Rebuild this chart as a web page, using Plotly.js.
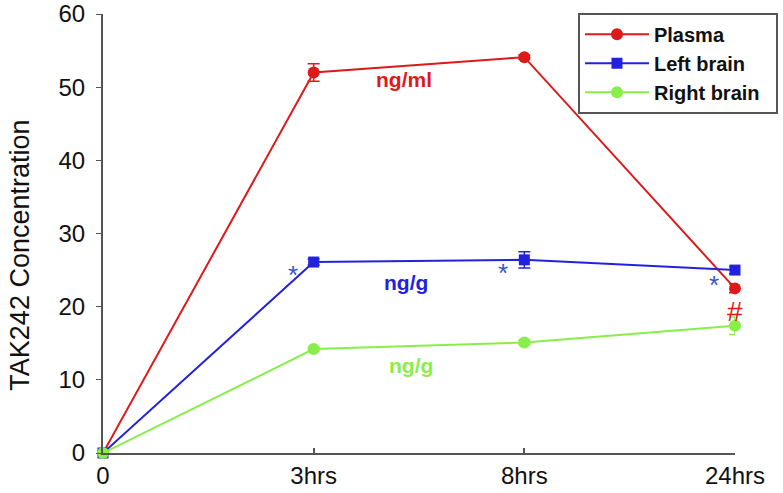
<!DOCTYPE html>
<html><head><meta charset="utf-8">
<script src="https://cdn.plot.ly/plotly-3.0.1.min.js"></script>
<style>body{margin:0;background:#fff}#c{width:783px;height:493px}</style>
</head><body><div id="c"></div>
<script>
const categories = ["0", "3hrs", "8hrs", "24hrs"];
const plasma = [0, 52.0, 54.1, 22.5];
const plasmaErr = [0, 1.2, 0.3, 0.6];
const leftBrain = [0, 26.1, 26.4, 25.0];
const leftErr = [0, 0.4, 1.1, 0.5];
const rightBrain = [0, 14.2, 15.1, 17.4];
const rightErr = [0, 0.3, 0.3, 1.2];
const seriesNames = ["Plasma", "Left brain", "Right brain"];

const xIdx = categories.map((c, i) => i);
const red = "#dd1a1a", blue = "#2222dd", green = "#88ee4a";
const pad = "&nbsp;&nbsp;";

function tr(name, y, err, color, symbol, size) {
  return {
    x: xIdx, y: y, name: name + pad, type: "scatter", mode: "lines+markers",
    line: {color: color, width: 2},
    marker: {color: color, symbol: symbol, size: size},
    error_y: {type: "data", array: err, visible: true, color: color, thickness: 1.5, width: 6},
    cliponaxis: false
  };
}
const data = [
  tr(seriesNames[0], plasma, plasmaErr, red, "circle", 12),
  tr(seriesNames[1], leftBrain, leftErr, blue, "square", 11),
  tr(seriesNames[2], rightBrain, rightErr, green, "circle", 12)
];

const layout = {
  width: 783, height: 493,
  margin: {l: 103, r: 48, t: 14, b: 40, autoexpand: false},
  paper_bgcolor: "#fff", plot_bgcolor: "#fff",
  font: {family: "Arial, Liberation Sans", size: 24, color: "#111"},
  xaxis: {
    range: [0, 3], tickvals: xIdx, ticktext: categories,
    showgrid: false, zeroline: false, showline: true, linecolor: "#555", linewidth: 2,
    ticks: "inside", ticklen: 5, tickcolor: "#555", tickwidth: 2,
    tickfont: {family: "Arial", size: 24, color: "#111"}
  },
  yaxis: {
    range: [0, 60], dtick: 10, showgrid: false, zeroline: false,
    showline: true, linecolor: "#555", linewidth: 2,
    ticks: "outside", ticklen: 5, tickcolor: "#555", tickwidth: 1,
    ticklabelstandoff: 6,
    tickfont: {family: "Arial", size: 24, color: "#111"}
  },
  showlegend: true,
  legend: {
    x: 1.068, y: 1.003, xanchor: "right", yanchor: "top",
    bordercolor: "#555", borderwidth: 2, bgcolor: "#fff",
    font: {family: "Arial", size: 20, color: "#111", weight: "bold"},
    tracegroupgap: 0, itemwidth: 64
  },
  annotations: [
    {xref: "paper", yref: "paper", x: -0.131, y: 0.45, xanchor: "center", yanchor: "middle", text: "TAK242 Concentration", textangle: -90, showarrow: false, font: {family: "Arial", size: 27, color: "#111"}},
    {xref: "x", yref: "y", x: 1.43, y: 51.0, text: "<b>ng/ml</b>", showarrow: false, font: {family: "Arial", size: 21, color: red}},
    {xref: "x", yref: "y", x: 1.44, y: 23.3, text: "<b>ng/g</b>", showarrow: false, font: {family: "Arial", size: 21, color: blue}},
    {xref: "x", yref: "y", x: 1.46, y: 12.0, text: "<b>ng/g</b>", showarrow: false, font: {family: "Arial", size: 21, color: green}},
    {xref: "x", yref: "y", x: 0.90, y: 24.3, text: "*", showarrow: false, font: {family: "Arial", size: 26, color: "#3355cc"}},
    {xref: "x", yref: "y", x: 1.90, y: 24.6, text: "*", showarrow: false, font: {family: "Arial", size: 26, color: "#3355cc"}},
    {xref: "x", yref: "y", x: 2.90, y: 22.9, text: "*", showarrow: false, font: {family: "Arial", size: 26, color: "#3355cc"}},
    {xref: "x", yref: "y", x: 3.0, y: 19.3, text: "#", showarrow: false, font: {family: "Arial", size: 28, color: red}}
  ]
};
Plotly.newPlot("c", data, layout, {displayModeBar: false, staticPlot: true});
</script></body></html>
